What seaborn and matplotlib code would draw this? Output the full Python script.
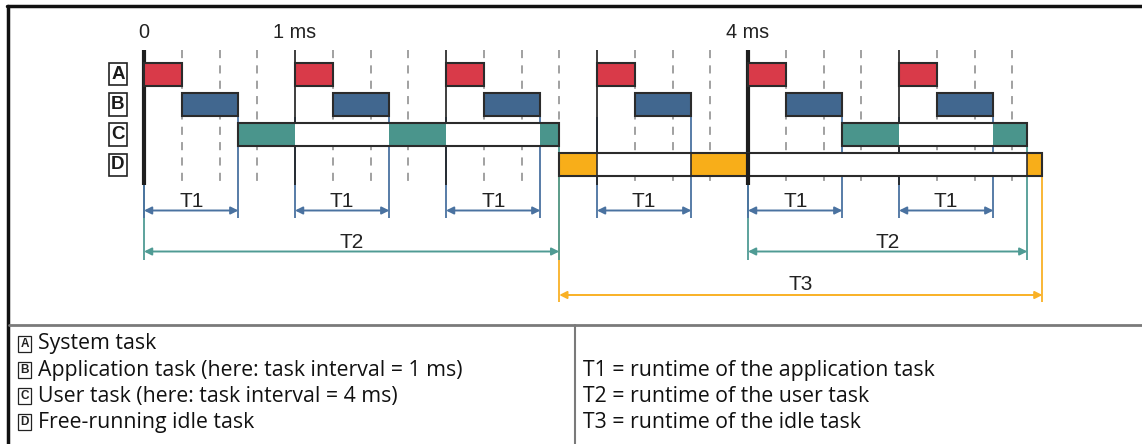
import matplotlib
matplotlib.use("Agg")
import matplotlib.pyplot as plt
from matplotlib.lines import Line2D
import seaborn as sns

# ---- data (times in ms) ----
tasks = ["A", "B", "C", "D"]
tick_ms = [0, 1, 4]
tick_labels = ["0", "1 ms", "4 ms"]
major_ms = [0, 1, 2, 3, 4, 5]
thick_ms = [0, 4]
quarter_ms = [0.25, 0.5, 0.75, 1.25, 1.5, 1.75, 2.25, 2.5, 2.75, 3.25, 3.5, 3.75,
              4.25, 4.5, 4.75, 5.25, 5.5, 5.75]

sys_start = [0, 1, 2, 3, 4, 5]
sys_dur = [0.25, 0.25, 0.25, 0.25, 0.25, 0.25]

app_start = [0.25, 1.25, 2.25, 3.25, 4.25, 5.25]
app_dur = [0.375, 0.375, 0.375, 0.375, 0.375, 0.375]

user_span_start = [0.625, 4.625]
user_span_dur = [2.125, 1.225]
user_run_start = [0.625, 1.625, 2.625, 4.625, 5.625]
user_run_dur = [0.375, 0.375, 0.125, 0.375, 0.225]

idle_span_start = [2.75]
idle_span_dur = [3.2]
idle_run_start = [2.75, 3.625, 5.85]
idle_run_dur = [0.25, 0.375, 0.1]

t1_start = [0, 1, 2, 3, 4, 5]
t1_end = [0.625, 1.625, 2.625, 3.625, 4.625, 5.625]
t2_start = [0, 4]
t2_end = [2.75, 5.85]
t3_start = [2.75]
t3_end = [5.95]

legend_left = ["System task",
               "Application task (here: task interval = 1 ms)",
               "User task (here: task interval = 4 ms)",
               "Free-running idle task"]
legend_right = ["T1 = runtime of the application task",
                "T2 = runtime of the user task",
                "T3 = runtime of the idle task"]

# ---- style ----
sns.set_theme(style="white")
plt.rcParams["font.family"] = ["Liberation Sans", "DejaVu Sans"]
red, blue, teal, orange = sns.color_palette(["#d93a49", "#41678f", "#4a958c", "#f8ae19"])
blue_dim = "#4a72a0"
teal_dim = "#4f9b94"
orange_dim = "#f9b126"
edge = "#2b2b2b"

W, H = 1142, 444
fig = plt.figure(figsize=(W / 100, H / 100), dpi=100)
ax = fig.add_axes([0, 0, 1, 1])

# layout: 0 ms at x=144 px, 151 px per ms; row A centre at y=74 px, 30.2 px per row
px_ms, x0 = 151.0, 144.0
px_row, y0 = 30.2, 74.2


def py(p):
    return (p - y0) / px_row


ax.set_xlim(-x0 / px_ms, (W - x0) / px_ms)
ax.set_ylim(py(H), py(0))
ax.axis("off")

bh = 23 / px_row

# grid lines
ax.vlines(quarter_ms, py(50), py(181), colors="#9a9a9a", linestyles=(0, (4.5, 4)), lw=1.3, zorder=1)
for t in major_ms:
    ax.vlines(t, py(50), py(185), colors="#1e1e1e", lw=3 if t in thick_ms else 1.2, zorder=2)

# extension lines for the dimension arrows
ax.vlines(t3_start + t3_end, py(177), py(302), colors=orange_dim, lw=1.3, zorder=1.1)
ax.vlines(t2_start + t2_end, py(147), py(260), colors=teal_dim, lw=1.3, zorder=1.2)
ax.vlines(t1_start + t1_end, py(117), py(218), colors=blue_dim, lw=1.3, zorder=1.4)

# task bars
ax.barh([0] * len(sys_start), sys_dur, left=sys_start, height=bh, color=red,
        edgecolor=edge, lw=1.5, zorder=4)
ax.barh([1] * len(app_start), app_dur, left=app_start, height=bh, color=blue,
        edgecolor=edge, lw=1.5, zorder=4)
ax.barh([2] * len(user_span_start), user_span_dur, left=user_span_start, height=bh,
        color="white", edgecolor="none", zorder=3)
ax.barh([2] * len(user_run_start), user_run_dur, left=user_run_start, height=bh,
        color=teal, edgecolor="none", zorder=4)
ax.barh([2] * len(user_span_start), user_span_dur, left=user_span_start, height=bh,
        color="none", edgecolor=edge, lw=1.5, zorder=5)
ax.barh([3] * len(idle_span_start), idle_span_dur, left=idle_span_start, height=bh,
        color="white", edgecolor="none", zorder=3)
ax.barh([3] * len(idle_run_start), idle_run_dur, left=idle_run_start, height=bh,
        color=orange, edgecolor=edge, lw=1.2, zorder=4)
ax.barh([3] * len(idle_span_start), idle_span_dur, left=idle_span_start, height=bh,
        color="none", edgecolor=edge, lw=1.5, zorder=5)
ax.vlines(4, py(153), py(177), colors="#1e1e1e", lw=3, zorder=6)

# row labels
for i, name in enumerate(tasks):
    ax.text(-26 / px_ms, i, name, ha="center", va="center", fontsize=13.5,
            fontweight="bold", color="#1a1a1a", zorder=6,
            bbox=dict(boxstyle="square,pad=0.14", fc="white", ec="#222222", lw=1.2))

# time labels
for t, lab in zip(tick_ms, tick_labels):
    ax.text(t, py(33), lab, ha="center", va="center", fontsize=14.3, color="#222222")


# dimension arrows
def dim(starts, ends, ypx, ybase, label, color):
    for s, e in zip(starts, ends):
        ax.annotate("", xy=(e, py(ypx)), xytext=(s, py(ypx)),
                    arrowprops=dict(arrowstyle="<|-|>", color=color, lw=1.4,
                                    shrinkA=0, shrinkB=0, mutation_scale=11))
        ax.text((s + e) / 2, py(ybase), label, ha="center", va="baseline",
                fontsize=15, color="#222222")


dim(t1_start, t1_end, 210.5, 206.5, "T1", blue_dim)
dim(t2_start, t2_end, 251.5, 248, "T2", teal_dim)
dim(t3_start, t3_end, 295, 290.5, "T3", orange_dim)

# frame and legend table
def fx(p):
    return p / W


def fy(p):
    return 1 - p / H


fig.add_artist(Line2D([fx(7), 1], [fy(6), fy(6)], color="#111111", lw=2.5,
                      transform=fig.transFigure))
fig.add_artist(Line2D([fx(8), fx(8)], [0, fy(6)], color="#111111", lw=2.5,
                      transform=fig.transFigure))
fig.add_artist(Line2D([fx(9), 1], [fy(325), fy(325)], color="#7a7a7a", lw=2,
                      transform=fig.transFigure))
fig.add_artist(Line2D([fx(575), fx(575)], [0, fy(325)], color="#7a7a7a", lw=1.5,
                      transform=fig.transFigure))

row_y = [344, 370, 396, 422]
table_font = ["Open Sans", "DejaVu Sans"]
for lab, txt, yy in zip(tasks, legend_left, row_y):
    fig.text(fx(24.5), fy(yy), lab, ha="center", va="center", fontsize=8.5,
             fontweight="bold", color="#222222",
             bbox=dict(boxstyle="square,pad=0.18", fc="white", ec="#222222", lw=0.9))
    fig.text(fx(38), fy(yy), txt, ha="left", va="center", fontsize=15.3,
             family=table_font, color="#111111")
for txt, yy in zip(legend_right, row_y[1:]):
    fig.text(fx(583), fy(yy), txt, ha="left", va="center", fontsize=15.3,
             family=table_font, color="#111111")

fig.savefig("out.png", dpi=100, facecolor="white")
